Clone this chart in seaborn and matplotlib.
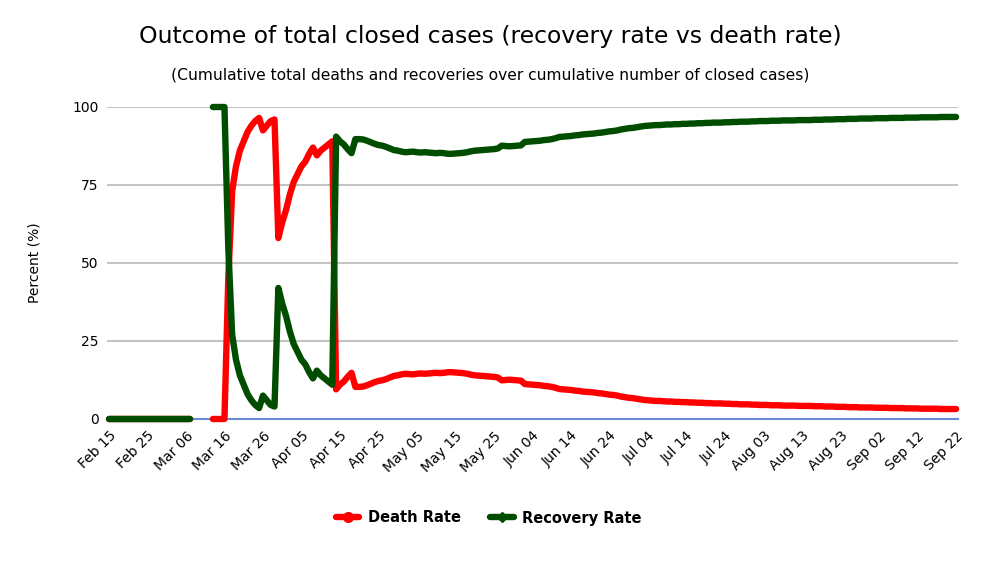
import numpy as np
import pandas as pd
import seaborn as sns
import matplotlib.pyplot as plt
from matplotlib.lines import Line2D

# daily values starting Feb 15 2020, None = no data that day
start_date = "2020-02-15"

death_rate = [
    0, 0, 0, 0, 0, 0, 0, 0, 0, 0,
    0, 0, 0, 0, 0, 0, 0, 0, 0, 0,
    0, 0, None, None, None, None, None, 0, 0, 0,
    0, 45, 73, 81, 86, 89, 92, 94, 95.5, 96.5,
    92.5, 94, 95.5, 96, 58, 63, 67, 72, 76, 78.5,
    81, 82.5, 85, 87, 84.5, 86, 87, 88, 89, 9.5,
    11, 12, 13.5, 14.8, 10.3, 10.3, 10.4, 10.8, 11.3, 11.8,
    12.2, 12.4, 12.8, 13.3, 13.8, 14.0, 14.3, 14.5, 14.4, 14.3,
    14.5, 14.6, 14.5, 14.6, 14.7, 14.8, 14.7, 14.8, 15.0, 15.0,
    14.9, 14.8, 14.7, 14.5, 14.2, 14.0, 13.9, 13.8, 13.7, 13.6,
    13.5, 13.3, 12.4, 12.5, 12.6, 12.5, 12.4, 12.3, 11.2, 11.1,
    11.0, 10.9, 10.8, 10.6, 10.5, 10.3, 10.0, 9.6, 9.5, 9.4,
    9.3, 9.1, 9.0, 8.8, 8.7, 8.6, 8.5, 8.3, 8.2, 8.0,
    7.8, 7.7, 7.5, 7.2, 7.0, 6.8, 6.7, 6.5, 6.3, 6.1,
    6.0, 5.9, 5.8, 5.8, 5.7, 5.6, 5.6, 5.5, 5.5, 5.4,
    5.4, 5.3, 5.3, 5.2, 5.2, 5.1, 5.1, 5.0, 5.0, 5.0,
    4.9, 4.9, 4.8, 4.8, 4.7, 4.7, 4.7, 4.6, 4.6, 4.5,
    4.5, 4.5, 4.4, 4.4, 4.4, 4.3, 4.3, 4.3, 4.3, 4.2,
    4.2, 4.2, 4.2, 4.1, 4.1, 4.1, 4.0, 4.0, 4.0, 3.9,
    3.9, 3.9, 3.8, 3.8, 3.8, 3.7, 3.7, 3.7, 3.7, 3.6,
    3.6, 3.6, 3.6, 3.5, 3.5, 3.5, 3.5, 3.4, 3.4, 3.4,
    3.4, 3.3, 3.3, 3.3, 3.3, 3.3, 3.2, 3.2, 3.2, 3.2,
    3.2,
]

recovery_rate = [
    0, 0, 0, 0, 0, 0, 0, 0, 0, 0,
    0, 0, 0, 0, 0, 0, 0, 0, 0, 0,
    0, 0, None, None, None, None, None, 100, 100, 100,
    100, 55, 27, 19, 14, 11, 8, 6, 4.5, 3.5,
    7.5, 6, 4.5, 4, 42, 37, 33, 28, 24, 21.5,
    19, 17.5, 15, 13, 15.5, 14, 13, 12, 11, 90.5,
    89, 88, 86.5, 85.2, 89.7, 89.7, 89.6, 89.2, 88.7, 88.2,
    87.8, 87.6, 87.2, 86.7, 86.2, 86.0, 85.7, 85.5, 85.6, 85.7,
    85.5, 85.4, 85.5, 85.4, 85.3, 85.2, 85.3, 85.2, 85.0, 85.0,
    85.1, 85.2, 85.3, 85.5, 85.8, 86.0, 86.1, 86.2, 86.3, 86.4,
    86.5, 86.7, 87.6, 87.5, 87.4, 87.5, 87.6, 87.7, 88.8, 88.9,
    89.0, 89.1, 89.2, 89.4, 89.5, 89.7, 90.0, 90.4, 90.5, 90.6,
    90.7, 90.9, 91.0, 91.2, 91.3, 91.4, 91.5, 91.7, 91.8, 92.0,
    92.2, 92.3, 92.5, 92.8, 93.0, 93.2, 93.3, 93.5, 93.7, 93.9,
    94.0, 94.1, 94.2, 94.2, 94.3, 94.4, 94.4, 94.5, 94.5, 94.6,
    94.6, 94.7, 94.7, 94.8, 94.8, 94.9, 94.9, 95.0, 95.0, 95.0,
    95.1, 95.1, 95.2, 95.2, 95.3, 95.3, 95.3, 95.4, 95.4, 95.5,
    95.5, 95.5, 95.6, 95.6, 95.6, 95.7, 95.7, 95.7, 95.7, 95.8,
    95.8, 95.8, 95.8, 95.9, 95.9, 95.9, 96.0, 96.0, 96.0, 96.1,
    96.1, 96.1, 96.2, 96.2, 96.2, 96.3, 96.3, 96.3, 96.3, 96.4,
    96.4, 96.4, 96.4, 96.5, 96.5, 96.5, 96.5, 96.6, 96.6, 96.6,
    96.6, 96.7, 96.7, 96.7, 96.7, 96.7, 96.8, 96.8, 96.8, 96.8,
    96.8,
]

tick_labels = ["Feb 15", "Feb 25", "Mar 06", "Mar 16", "Mar 26", "Apr 05",
               "Apr 15", "Apr 25", "May 05", "May 15", "May 25", "Jun 04",
               "Jun 14", "Jun 24", "Jul 04", "Jul 14", "Jul 24", "Aug 03",
               "Aug 13", "Aug 23", "Sep 02", "Sep 12", "Sep 22"]
y_ticks = [0, 25, 50, 75, 100]

series_names = ["Death Rate", "Recovery Rate"]
colors = {"Death Rate": "#ff0000", "Recovery Rate": "#004d00"}

# build long frame, gaps split each series into separate segments
frames = []
for name, values in zip(series_names, [death_rate, recovery_rate]):
    s = pd.Series(values, dtype="float")
    part = pd.DataFrame({
        "date": pd.date_range(start_date, periods=len(s)),
        "day": np.arange(len(s)),
        "rate": s,
        "segment": s.isna().cumsum(),
        "series": name,
    })
    frames.append(part.dropna(subset=["rate"]))
df = pd.concat(frames, ignore_index=True)

sns.set_style("white")
plt.rcParams["font.family"] = ["DejaVu Sans"]
plt.rcParams["text.color"] = "black"
plt.rcParams["xtick.color"] = "black"
plt.rcParams["ytick.color"] = "black"

W, H = 994, 577
fig = plt.figure(figsize=(W / 100, H / 100), dpi=100)
ax = fig.add_axes([107 / W, 1 - 419 / H, 851 / W, 312 / H])

sns.lineplot(data=df, x="day", y="rate", hue="series", units="segment",
             estimator=None, hue_order=series_names, palette=colors,
             linewidth=4.6, legend=False, ax=ax, zorder=3, clip_on=False,
             solid_capstyle="round", solid_joinstyle="round")

ax.set_xlim(-0.5, len(death_rate) - 0.5)
ax.set_ylim(0, 100)
ax.set_yticks(y_ticks)
ax.set_yticklabels([str(t) for t in y_ticks], fontsize=10)
ax.set_xticks(np.arange(len(tick_labels)) * 10)
ax.set_xticklabels(tick_labels, rotation=45, ha="right",
                   rotation_mode="anchor", fontsize=10)
ax.tick_params(axis="both", length=0)
ax.tick_params(axis="x", pad=7)
ax.tick_params(axis="y", pad=6)
ax.yaxis.grid(True, color="#c4c4c4", linewidth=1.5)
ax.set_axisbelow(True)
for side in ["left", "right", "top"]:
    ax.spines[side].set_visible(False)
ax.spines["bottom"].set_color("#6a8cd4")
ax.spines["bottom"].set_linewidth(1.5)
ax.spines["bottom"].set_zorder(1)
ax.set_xlabel("")
ax.set_ylabel("")

fig.text(35 / W, 1 - 263 / H, "Percent (%)", rotation=90, ha="center",
         va="center", fontsize=10)
fig.text(490 / W, 1 - 36 / H,
         "Outcome of total closed cases (recovery rate vs death rate)",
         ha="center", va="center", fontsize=16.9, weight="medium")
fig.text(490 / W, 1 - 75 / H,
         "(Cumulative total deaths and recoveries over cumulative number of closed cases)",
         ha="center", va="center", fontsize=11.2)

handles = [
    Line2D([0], [0], color=colors["Death Rate"], lw=4.6, marker="o",
           markersize=7),
    Line2D([0], [0], color=colors["Recovery Rate"], lw=4.6, marker="D",
           markersize=5.5),
]
fig.legend(handles, series_names, loc="center",
           bbox_to_anchor=(489 / W, 1 - 518 / H), ncol=2, frameon=False,
           prop={"weight": "bold", "size": 10.5}, handlelength=1.6,
           columnspacing=2.0, handletextpad=0.6)

fig.savefig("out.png", dpi=100)
